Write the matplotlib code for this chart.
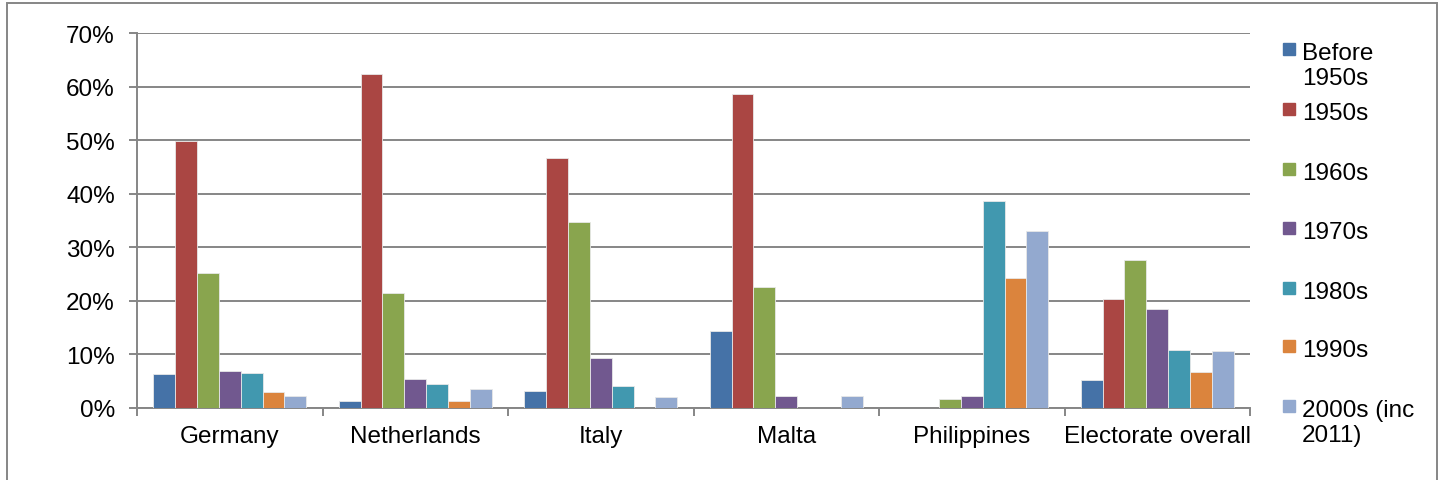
import numpy as np
import matplotlib.pyplot as plt
from matplotlib.patches import Rectangle

plt.rcParams['font.family'] = ['Liberation Sans', 'DejaVu Sans']

# === data (percent) ===
countries = ["Germany", "Netherlands", "Italy", "Malta", "Philippines", "Electorate overall"]
series = ["Before\n1950s", "1950s", "1960s", "1970s", "1980s", "1990s", "2000s (inc\n2011)"]
before_1950s = [6.4, 1.4, 3.2, 14.3, 0.0, 5.2]
s1950s = [49.8, 62.4, 46.6, 58.7, 0.0, 20.3]
s1960s = [25.2, 21.4, 34.8, 22.5, 1.7, 27.6]
s1970s = [6.9, 5.5, 9.3, 2.2, 2.3, 18.5]
s1980s = [6.6, 4.5, 4.1, 0.0, 38.7, 10.8]
s1990s = [2.9, 1.4, 0.0, 0.0, 24.2, 6.8]
s2000s = [2.2, 3.5, 2.0, 2.2, 33.0, 10.6]
values = [before_1950s, s1950s, s1960s, s1970s, s1980s, s1990s, s2000s]
colors = ["#4572A7", "#AA4643", "#89A54E", "#71588F", "#4198AF", "#DB843D", "#93A9CF"]

fs = 17.5
grid_col = "#868686"

fig = plt.figure(figsize=(14.41, 4.81), dpi=100)
ax = fig.add_axes([137 / 1441, 1 - 409 / 481, (1250 - 137) / 1441, (409 - 34) / 481])

x = np.arange(len(countries))
w = 0.118
for i, (vals, col) in enumerate(zip(values, colors)):
    ax.bar(x + (i - 3) * w, vals, width=w, color=col, edgecolor="#e8e8e8",
           linewidth=0.6, zorder=3)

ax.set_xlim(-0.5, len(countries) - 0.5)
ax.set_ylim(0, 70)
ax.set_yticks(np.arange(0, 71, 10))
ax.set_yticklabels([f"{v}%" for v in range(0, 71, 10)], fontsize=fs)
ax.yaxis.grid(True, color=grid_col, linewidth=1.4, zorder=0)

ax.set_xticks(x)
ax.set_xticklabels(countries, fontsize=fs)
ax.set_xticks(np.arange(-0.5, len(countries)), minor=True)
ax.tick_params(axis="x", which="major", length=0, pad=12)
ax.tick_params(axis="x", which="minor", length=6, width=1.4, color=grid_col, direction="out")
ax.tick_params(axis="y", length=6, width=1.4, color=grid_col, pad=10)

for side in ["top", "right"]:
    ax.spines[side].set_visible(False)
for side in ["left", "bottom"]:
    ax.spines[side].set_color(grid_col)
    ax.spines[side].set_linewidth(1.4)

# === legend, placed by hand like Excel ===
leg_y = [50, 110, 170, 229, 289, 347, 407]
for lab, col, yy in zip(series, colors, leg_y):
    fig.patches.append(Rectangle((1283 / 1441, 1 - (yy + 6) / 481), 12 / 1441, 12 / 481,
                                 transform=fig.transFigure, color=col))
    fig.text(1302 / 1441, 1 - (yy - 7) / 481, lab, fontsize=fs, va="top", ha="left",
             linespacing=1.2)

# outer chart border (bottom edge runs off the image)
fig.patches.append(Rectangle((7 / 1441, -5 / 481), 1430 / 1441, 482 / 481, transform=fig.transFigure,
                             fill=False, edgecolor=grid_col, linewidth=1.4))

fig.savefig("out.png", dpi=100)
